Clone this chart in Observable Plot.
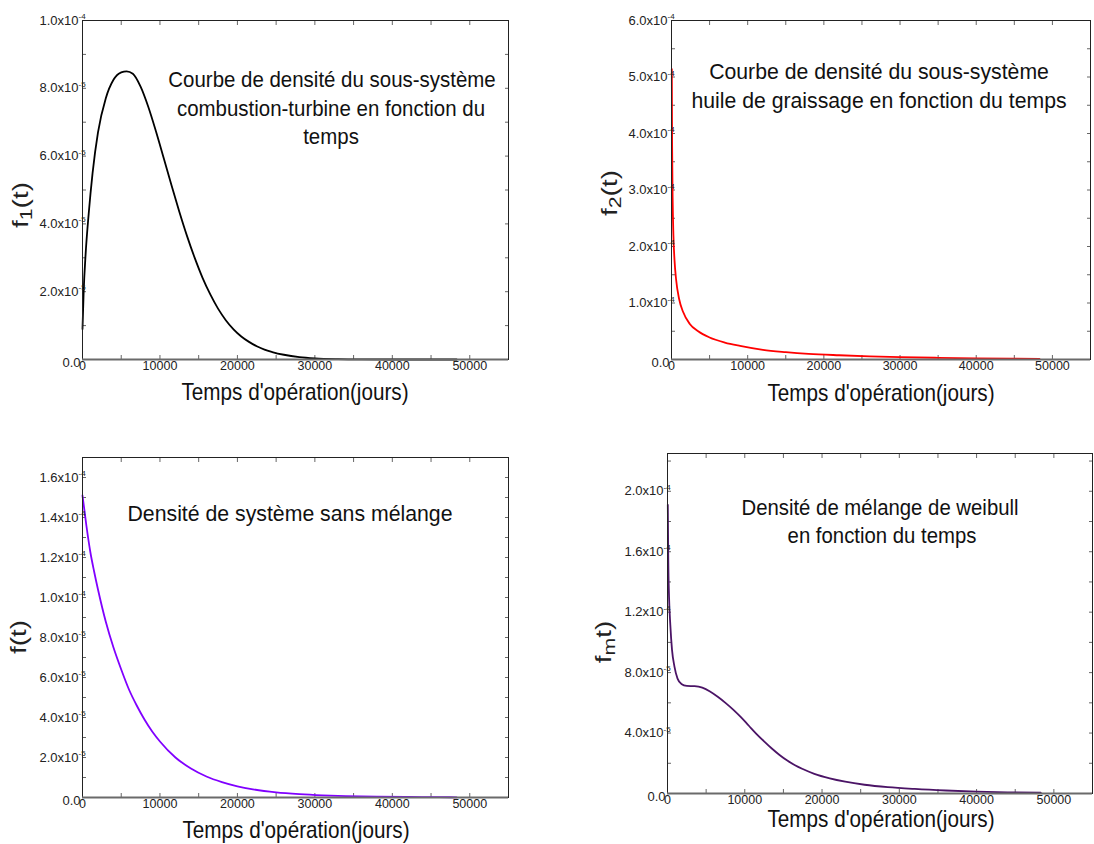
<!DOCTYPE html>
<html><head><meta charset="utf-8">
<script src="https://cdn.jsdelivr.net/npm/d3@7"></script>
<script src="https://cdn.jsdelivr.net/npm/@observablehq/plot@0.6"></script>
<style>
body{margin:0;background:#fff;font-family:"Liberation Sans",Arial,sans-serif;}
#wrap{position:relative;width:1094px;height:844px;overflow:hidden;background:#fff;}
.p{position:absolute;}
#ov{position:absolute;left:0;top:0;pointer-events:none;}
</style></head><body><div id="wrap"></div>
<script>
// ---- shared x axis ----
const xDomain = [0, 55000];
const xTicks = [0, 10000, 20000, 30000, 40000, 50000];
const xTickLabels = ["0", "10000", "20000", "30000", "40000", "50000"];
const xMinor = [0, 5000, 10000, 15000, 20000, 25000, 30000, 35000, 40000, 45000, 50000, 55000];

// ---- panel 1 : combustion-turbine ----
const t1 = [0, 150, 400, 800, 1300, 2000, 3000, 4000, 5000, 5700, 6500, 7500, 8500, 9500, 10500, 11500, 12500, 13500, 14500, 15500, 16500, 17500, 18500, 19500, 20500, 21500, 22500, 23500, 24500, 26000, 28000, 30000, 33000, 36000, 40000, 48300];
const f1 = [0.9e-5, 2.0e-5, 3.1e-5, 4.3e-5, 5.5e-5, 6.7e-5, 7.7e-5, 8.25e-5, 8.47e-5, 8.5e-5, 8.43e-5, 8.05e-5, 7.45e-5, 6.72e-5, 5.93e-5, 5.13e-5, 4.36e-5, 3.64e-5, 2.99e-5, 2.41e-5, 1.92e-5, 1.5e-5, 1.16e-5, 0.89e-5, 0.68e-5, 0.52e-5, 0.39e-5, 0.29e-5, 0.22e-5, 0.14e-5, 0.07e-5, 0.033e-5, 0.01e-5, 0.0025e-5, 0.0004e-5, 0];
const y1Ticks = [0, 2e-5, 4e-5, 6e-5, 8e-5, 1e-4];
const y1Mant = ["0.0", "2.0x10", "4.0x10", "6.0x10", "8.0x10", "1.0x10"];
const y1Exp = ["", "-5", "-5", "-5", "-5", "-4"];

// ---- panel 2 : huile de graissage ----
const t2 = [40, 80, 150, 250, 400, 600, 1000, 1500, 2400, 3500, 5000, 7000, 9000, 12000, 15000, 18000, 22000, 26000, 30000, 35000, 40000, 45000, 48300];
const f2 = [5.14e-4, 3.8e-4, 2.85e-4, 2.2e-4, 1.75e-4, 1.42e-4, 1.07e-4, 0.85e-4, 0.63e-4, 0.5e-4, 0.39e-4, 0.3e-4, 0.24e-4, 0.17e-4, 0.13e-4, 0.1e-4, 0.075e-4, 0.055e-4, 0.042e-4, 0.03e-4, 0.02e-4, 0.014e-4, 0.011e-4];
const y2Ticks = [0, 1e-4, 2e-4, 3e-4, 4e-4, 5e-4, 6e-4];
const y2Mant = ["0.0", "1.0x10", "2.0x10", "3.0x10", "4.0x10", "5.0x10", "6.0x10"];
const y2Exp = ["", "-4", "-4", "-4", "-4", "-4", "-4"];

// ---- panel 3 : système sans mélange ----
const t3 = [0, 500, 1000, 1500, 2000, 3000, 4000, 5000, 6000, 7000, 8000, 9000, 10000, 12000, 14000, 16000, 18000, 20000, 22000, 25000, 28000, 31000, 34000, 38000, 42000, 46000, 48300];
const f3 = [1.51e-4, 1.36e-4, 1.23e-4, 1.13e-4, 1.04e-4, 0.88e-4, 0.75e-4, 0.64e-4, 0.54e-4, 0.46e-4, 0.39e-4, 0.33e-4, 0.28e-4, 0.2e-4, 0.145e-4, 0.105e-4, 0.077e-4, 0.056e-4, 0.041e-4, 0.026e-4, 0.017e-4, 0.011e-4, 0.007e-4, 0.004e-4, 0.0025e-4, 0.0015e-4, 0.001e-4];
const y3Ticks = [0, 2e-5, 4e-5, 6e-5, 8e-5, 1e-4, 1.2e-4, 1.4e-4, 1.6e-4];
const y3Mant = ["0.0", "2.0x10", "4.0x10", "6.0x10", "8.0x10", "1.0x10", "1.2x10", "1.4x10", "1.6x10"];
const y3Exp = ["", "-5", "-5", "-5", "-5", "-4", "-4", "-4", "-4"];

// ---- panel 4 : mélange de weibull ----
const t4 = [40, 100, 200, 360, 585, 900, 1300, 1800, 2500, 3500, 4500, 5500, 6500, 7500, 8500, 9500, 10500, 11500, 12500, 13500, 14500, 15500, 16500, 17500, 19000, 21000, 23000, 25500, 28500, 32000, 36000, 40000, 44000, 48300];
const f4 = [1.91e-4, 1.55e-4, 1.3e-4, 1.12e-4, 0.95e-4, 0.84e-4, 0.76e-4, 0.725e-4, 0.712e-4, 0.71e-4, 0.7e-4, 0.675e-4, 0.64e-4, 0.6e-4, 0.555e-4, 0.505e-4, 0.45e-4, 0.395e-4, 0.345e-4, 0.298e-4, 0.255e-4, 0.218e-4, 0.187e-4, 0.162e-4, 0.13e-4, 0.1e-4, 0.078e-4, 0.058e-4, 0.042e-4, 0.03e-4, 0.02e-4, 0.013e-4, 0.008e-4, 0.005e-4];
const y4Ticks = [0, 4e-5, 8e-5, 1.2e-4, 1.6e-4, 2.0e-4];
const y4Mant = ["0.0", "4.0x10", "8.0x10", "1.2x10", "1.6x10", "2.0x10"];
const y4Exp = ["", "-5", "-5", "-4", "-4", "-4"];

const FONT = '"Liberation Sans", Arial, sans-serif';

function panel(o) {
  const data = o.t.map((d, i) => ({t: d, v: o.v[i]}));
  const ty = o.yTicks.map((d, i) => ({y: d, m: o.mant[i], e: o.exp[i]}));
  const tx = xTicks.map((d, i) => ({x: d, l: xTickLabels[i]}));
  const blank = () => "";
  const svg = Plot.plot({
    width: o.width, height: o.height,
    marginLeft: o.ml, marginRight: o.mr, marginTop: o.mt, marginBottom: o.mb,
    style: {fontFamily: FONT, background: "transparent", overflow: "visible"},
    x: {domain: xDomain, axis: null},
    y: {domain: o.yDomain, axis: null},
    marks: [
      Plot.axisX(xMinor, {anchor: "bottom", tickSize: -4, tickFormat: blank, stroke: "#666"}),
      Plot.axisX(xMinor, {anchor: "top", tickSize: -4, tickFormat: blank, stroke: "#666"}),
      Plot.axisY(o.yMinor, {anchor: "left", tickSize: -4, tickFormat: blank, stroke: "#666"}),
      Plot.axisY(o.yMinor, {anchor: "right", tickSize: -4, tickFormat: blank, stroke: "#666"}),
      Plot.line(data, {x: "t", y: "v", stroke: o.color, strokeWidth: 1.8, curve: o.curve}),
      Plot.frame({stroke: "#222"}),
      Plot.ruleY([0], {stroke: "#6a6a6a", strokeWidth: 2}),
      Plot.text(ty.filter(d => d.y !== 0), {y: "y", text: "m", frameAnchor: "left", textAnchor: "end", dx: -4, fontSize: 13, fill: "#222"}),
      Plot.text(ty.filter(d => d.e), {y: "y", text: "e", frameAnchor: "left", textAnchor: "start", dx: -4, dy: -4, fontSize: 8, fill: "#222"}),
      Plot.text(ty.filter(d => d.y === 0), {y: "y", text: "m", frameAnchor: "left", textAnchor: "end", dx: -2, dy: 3, fontSize: 13, fill: "#222"}),
      Plot.text(tx, {x: "x", text: "l", frameAnchor: "bottom", lineAnchor: "top", dy: 2, fontSize: 12.5, fill: "#222"})
    ]
  });
  const div = document.createElement("div");
  div.className = "p";
  div.style.left = o.left + "px";
  div.style.top = o.top + "px";
  div.appendChild(svg);
  document.getElementById("wrap").appendChild(div);
}

panel({left: 0, top: 0, width: 545, height: 420, ml: 82, mr: 37, mt: 20, mb: 61,
  yDomain: [0, 1e-4], yTicks: y1Ticks, mant: y1Mant, exp: y1Exp, yMinor: d3.range(0, 1.0001e-4, 1e-5),
  t: t1, v: f1, color: "#000000", curve: "monotone-x"});
panel({left: 550, top: 0, width: 544, height: 420, ml: 121, mr: 4, mt: 20, mb: 61,
  yDomain: [0, 6e-4], yTicks: y2Ticks, mant: y2Mant, exp: y2Exp, yMinor: d3.range(0, 6.0001e-4, 0.5e-4),
  t: t2, v: f2, color: "#ff0000", curve: "monotone-x"});
panel({left: 0, top: 420, width: 545, height: 424, ml: 82, mr: 37, mt: 37, mb: 47,
  yDomain: [0, 1.7e-4], yTicks: y3Ticks, mant: y3Mant, exp: y3Exp, yMinor: d3.range(0, 1.7001e-4, 1e-5),
  t: t3, v: f3, color: "#8000ff", curve: "monotone-x"});
panel({left: 550, top: 420, width: 544, height: 424, ml: 117, mr: 2, mt: 33, mb: 51,
  yDomain: [0, 2.25e-4], yTicks: y4Ticks, mant: y4Mant, exp: y4Exp, yMinor: d3.range(0, 2.2501e-4, 2e-5),
  t: t4, v: f4, color: "#4b1466", curve: "monotone-x"});

// ---- overlay texts (titles, annotations) ----
const ov = d3.select("#wrap").append("svg").attr("id", "ov").attr("width", 1094).attr("height", 844)
  .style("font-family", FONT);

const notes = [
  {x: 332, y: 87, s: "Courbe de densité du sous-système", k: 0.93},
  {x: 331, y: 116, s: "combustion-turbine en fonction du", k: 0.93},
  {x: 331, y: 144, s: "temps", k: 0.93},
  {x: 879, y: 79, s: "Courbe de densité du sous-système", k: 0.965},
  {x: 879, y: 108, s: "huile de graissage en fonction du temps", k: 0.965},
  {x: 290, y: 521, s: "Densité de système sans mélange", k: 0.967},
  {x: 880, y: 515, s: "Densité de mélange de weibull", k: 0.925},
  {x: 882, y: 543, s: "en fonction du temps", k: 0.925}
];
notes.forEach(n => ov.append("text")
  .attr("transform", `translate(${n.x},${n.y}) scale(${n.k},1)`)
  .attr("text-anchor", "middle").attr("font-size", 22).attr("fill", "#111").text(n.s));

const xTitles = [{x: 295, y: 400}, {x: 881, y: 401}, {x: 296, y: 838}, {x: 881, y: 827}];
xTitles.forEach(n => ov.append("text")
  .attr("transform", `translate(${n.x},${n.y}) scale(0.9,1)`)
  .attr("text-anchor", "middle").attr("font-size", 23).attr("fill", "#111").text("Temps d'opération(jours)"));

const yTitles = [
  {x: 28, y: 205, a: "f", sub: "1", b: "(t)"},
  {x: 617, y: 193, a: "f", sub: "2", b: "(t)"},
  {x: 26, y: 637, a: "f(t)", sub: "", b: ""},
  {x: 611, y: 642, a: "f", sub: "m", b: "t)"}
];
yTitles.forEach(n => {
  const t = ov.append("text")
    .attr("transform", `translate(${n.x},${n.y}) rotate(-90) scale(1.12,0.85)`)
    .attr("text-anchor", "middle").attr("font-size", 25).attr("fill", "#222");
  t.append("tspan").text(n.a);
  if (n.sub) {
    t.append("tspan").attr("font-size", 19).attr("dy", 5).text(n.sub);
    t.append("tspan").attr("dy", -5).text(n.b);
  }
});
</script>
</body></html>
